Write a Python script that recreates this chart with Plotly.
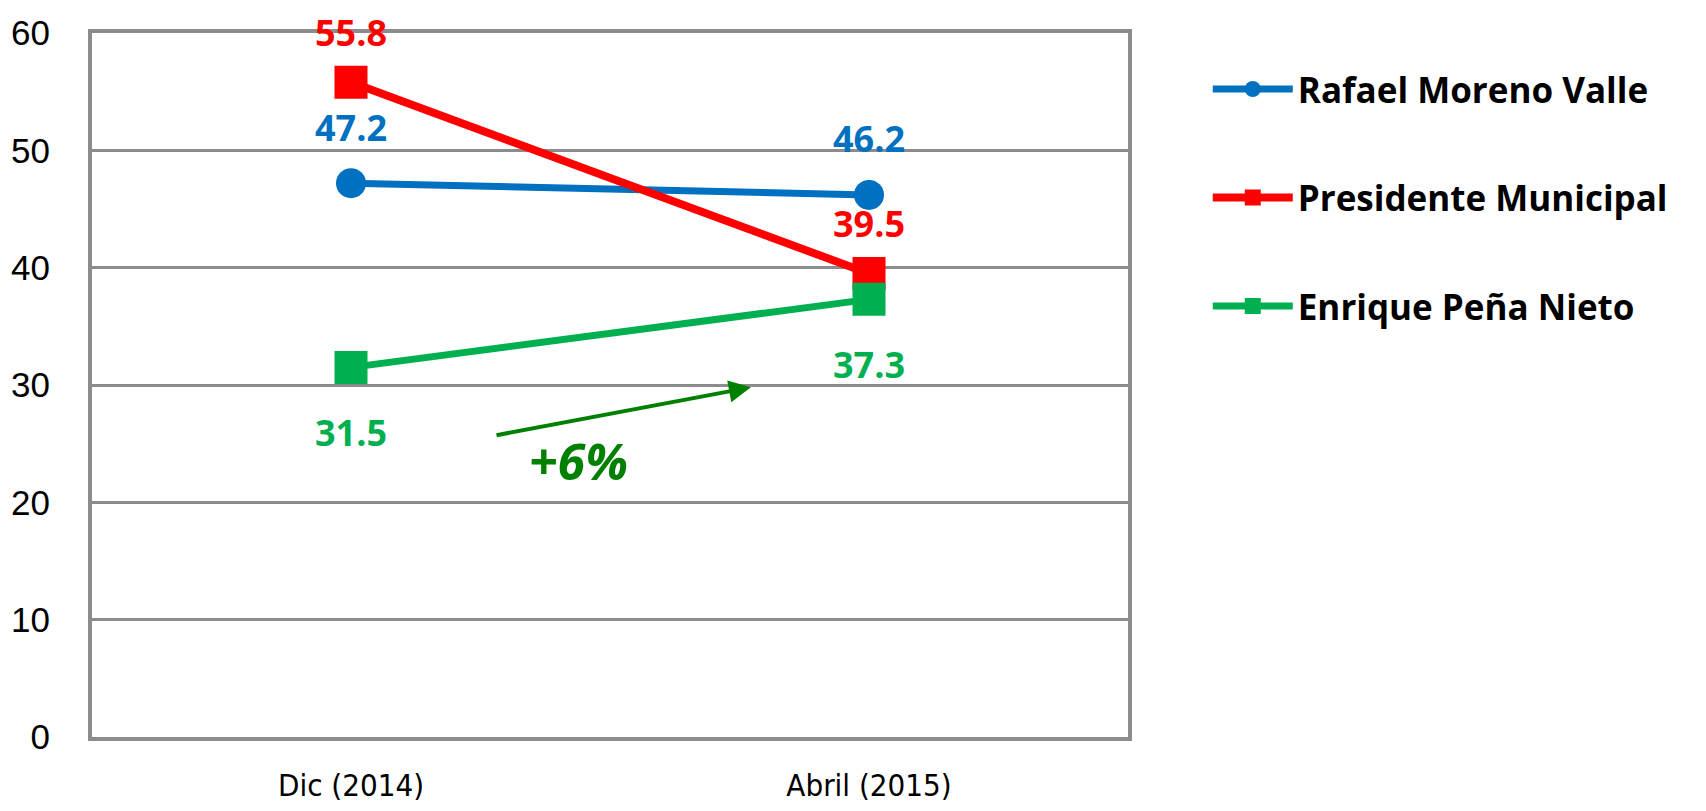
import plotly.graph_objects as go

periods = ["Dic (2014)", "Abril (2015)"]
series_names = ["Rafael Moreno Valle", "Presidente Municipal", "Enrique Peña Nieto"]
moreno_valle = [47.2, 46.2]
presidente_municipal = [55.8, 39.5]
pena_nieto = [31.5, 37.3]
y_ticks = [0, 10, 20, 30, 40, 50, 60]

series_values = [moreno_valle, presidente_municipal, pena_nieto]
colors = ["#0070C0", "#FF0000", "#00B050"]
symbols = ["circle", "square", "square"]
sizes = [30, 33, 33]
widths = [7, 8, 7]
# label offset in px: above for blue/red, below for green
label_shift = [56, 50, -65]

fig = go.Figure()

for name, vals, col, sym, sz, w in zip(series_names, series_values, colors, symbols, sizes, widths):
    fig.add_trace(go.Scatter(x=periods, y=vals, name=name, mode="lines+markers",
                             line=dict(color=col, width=w),
                             marker=dict(symbol=sym, size=sz, color=col),
                             legendgroup=name))

# data labels (tight box so the top one is not clipped)
for vals, col, shift in zip(series_values, colors, label_shift):
    for p, v in zip(periods, vals):
        fig.add_annotation(x=p, y=v, text=f"{v}", showarrow=False, yshift=shift, borderpad=0,
                           font=dict(family="Open Sans", size=36, color=col, weight="bold"))

# trend arrow for Peña Nieto
fig.add_annotation(x=0.772, y=29.8, ax=0.278, ay=25.7, xref="x", yref="y", axref="x", ayref="y",
                   text="", showarrow=True, arrowhead=2, arrowsize=1.1, arrowwidth=4, arrowcolor="#008000")
fig.add_annotation(x=0.44, y=23.5, xref="x", yref="y", text="<b><i>+6%</i></b>", showarrow=False,
                   font=dict(family="Open Sans", size=50, color="#008000"))

# page body has an 8px margin, so the figure is 16px smaller than the window
fig.update_layout(
    width=1690, height=795,
    margin=dict(l=84, r=570, t=25, b=66),
    plot_bgcolor="white", paper_bgcolor="white",
    showlegend=True,
    legend=dict(x=1.077, y=0.962, xanchor="left", yanchor="top", traceorder="grouped", tracegroupgap=60,
                font=dict(family="Open Sans", size=35, color="black", weight="bold"), itemwidth=80),
    xaxis=dict(type="category", range=[-0.5, 1.5], showgrid=False, showline=True, mirror=True,
               linecolor="#8c8c8c", linewidth=4, ticks="", ticklabelstandoff=18, automargin=False,
               tickfont=dict(family="DejaVu Sans Condensed, Roboto Condensed, Roboto", size=31, color="black")),
    yaxis=dict(range=[0, 60], tickvals=y_ticks, showgrid=True, gridcolor="#8c8c8c", gridwidth=3,
               showline=True, mirror=True, linecolor="#8c8c8c", linewidth=4, zeroline=False, ticks="",
               ticklabelstandoff=31, automargin=False,
               tickfont=dict(family="Liberation Sans", size=35, color="black")),
)

fig.write_html("out.html")
